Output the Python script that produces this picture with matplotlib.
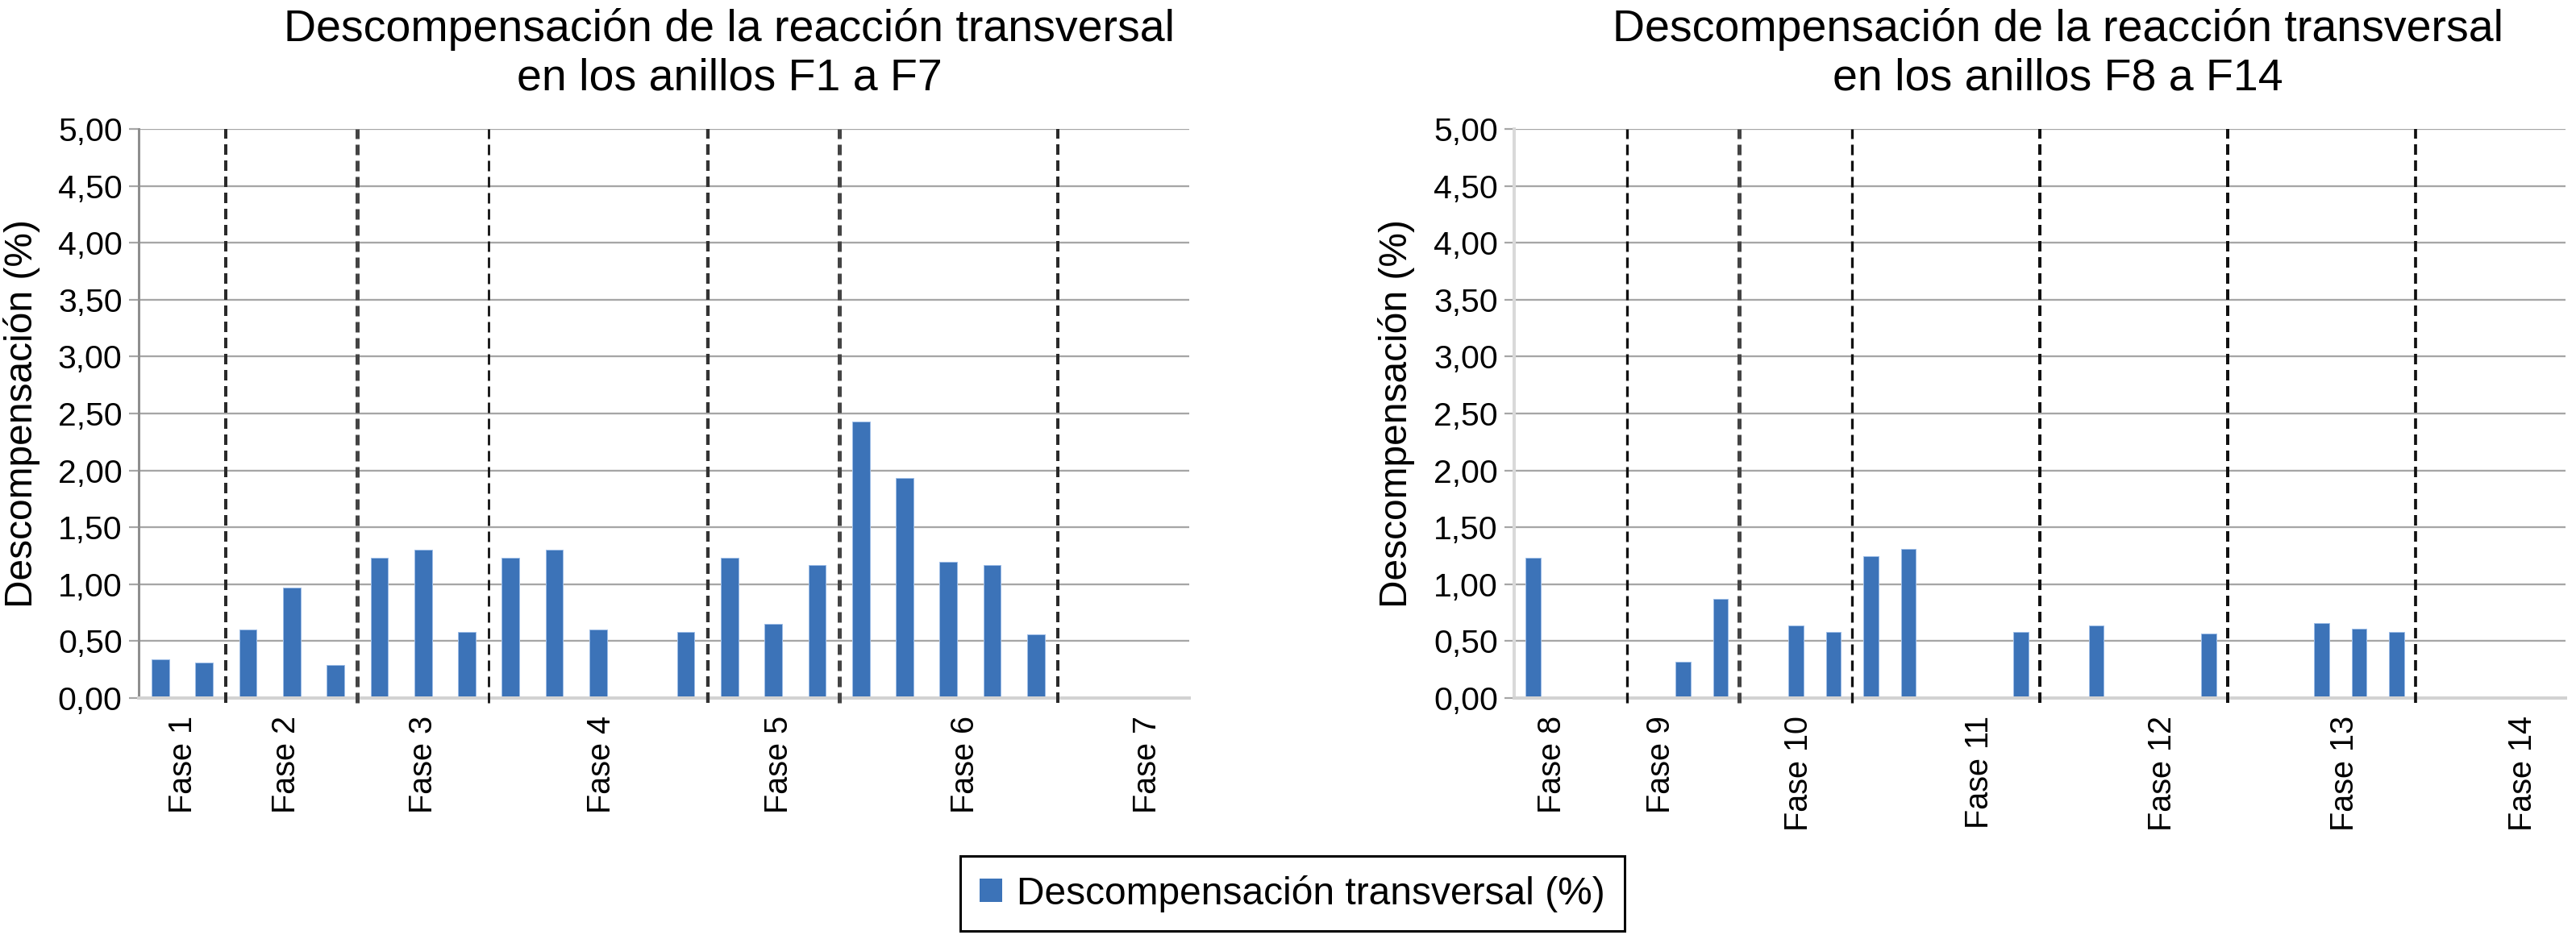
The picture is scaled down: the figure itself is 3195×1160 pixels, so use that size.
import matplotlib
matplotlib.use('Agg')
import matplotlib.pyplot as plt
import numpy as np
from matplotlib.ticker import FuncFormatter, FixedLocator
from matplotlib.patches import Patch

plt.rcParams['font.family'] = ['Liberation Sans', 'DejaVu Sans']
plt.rcParams['lines.scale_dashes'] = False

# ---------------- data ----------------
left_phases = ['Fase 1', 'Fase 2', 'Fase 3', 'Fase 4', 'Fase 5', 'Fase 6', 'Fase 7']
left_group_sizes = [2, 3, 3, 5, 3, 5, 3]
left_label_pos = [0.52, 2.88, 6.0, 10.07, 14.12, 18.38, 22.54]
left_values = [0.34, 0.31,
               0.60, 0.97, 0.29,
               1.23, 1.30, 0.58,
               1.23, 1.30, 0.60, 0.00, 0.58,
               1.23, 0.65, 1.17,
               2.43, 1.93, 1.20, 1.17, 0.56,
               0.00, 0.00, 0.00]

right_phases = ['Fase 8', 'Fase 9', 'Fase 10', 'Fase 11', 'Fase 12', 'Fase 13', 'Fase 14']
right_group_sizes = [3, 3, 3, 5, 5, 5, 4]
right_label_pos = [0.51, 3.41, 7.08, 11.89, 16.76, 21.62, 26.36]
right_values = [1.23, 0.00, 0.00,
                0.00, 0.32, 0.87,
                0.00, 0.64, 0.58,
                1.25, 1.31, 0.00, 0.00, 0.58,
                0.00, 0.64, 0.01, 0.00, 0.57,
                0.00, 0.00, 0.66, 0.61, 0.58,
                0.00, 0.00, 0.00, 0.00]

left_title = 'Descompensación de la reacción transversal\nen los anillos F1 a F7'
right_title = 'Descompensación de la reacción transversal\nen los anillos F8 a F14'
y_label = 'Descompensación (%)'
legend_label = 'Descompensación transversal (%)'
y_tick_values = [0.0, 0.5, 1.0, 1.5, 2.0, 2.5, 3.0, 3.5, 4.0, 4.5, 5.0]

# divider styles (px widths, colours)
left_div_widths = [4.0, 5.0, 2.8, 4.3, 5.0, 4.0]
left_div_colors = ['#2a2a2a', '#444444', '#111111', '#333333', '#444444', '#2a2a2a']
right_div_widths = [3.3, 5.0, 3.3, 4.0, 4.0, 3.7]
right_div_colors = ['#111111', '#444444', '#111111', '#111111', '#111111', '#111111']

# ---------------- style ----------------
W, H = 3195, 1160
DPI = 100
PX = 72.0 / DPI  # points per pixel
bar_color = '#3C73B8'
bar_edge = '#9CBCE6'
grid_color = '#A6A6A6'

fig = plt.figure(figsize=(W / DPI, H / DPI), dpi=DPI)

def fmt(v, p):
    return f'{v:.2f}'.replace('.', ',')

def make_panel(rect, values, sizes, label_pos, phases, spine_color, spine_w,
               div_w, div_c, ylab_x):
    ax = fig.add_axes(rect)
    n = len(values)
    x = np.arange(n)
    ax.set_axisbelow(True)
    ax.bar(x, values, width=0.4, color=bar_color, edgecolor=bar_edge,
           linewidth=1.0 * PX, zorder=2)
    ax.set_xlim(-0.5, n - 0.5)
    ax.set_ylim(0, 5)
    ax.yaxis.set_major_locator(FixedLocator(y_tick_values))
    ax.yaxis.set_major_formatter(FuncFormatter(fmt))
    ax.grid(axis='y', color=grid_color, linewidth=2.3 * PX)
    ax.set_xticks(label_pos)
    ax.set_xticklabels(phases, rotation=90, fontsize=28.5, va='top', ha='center')
    ax.tick_params(axis='x', length=0, pad=22 * PX)
    ax.tick_params(axis='y', labelsize=29.5, length=12 * PX, width=2.2 * PX,
                   color=grid_color, pad=8 * PX)
    for s in ('top', 'right'):
        ax.spines[s].set_visible(False)
    ax.spines['left'].set_color(spine_color)
    ax.spines['left'].set_linewidth(spine_w * PX)
    ax.spines['bottom'].set_color('#D2D2D2')
    ax.spines['bottom'].set_linewidth(4 * PX)
    # phase dividers
    bounds = np.cumsum(sizes)[:-1] - 0.5
    for b, lw, c in zip(bounds, div_w, div_c):
        ax.plot([b, b], [-0.045, 5.0], color=c, linewidth=lw * PX,
                dashes=(13 * PX, 7 * PX), clip_on=False, zorder=3)
    ax.set_ylabel(y_label, fontsize=34.5)
    ax.yaxis.set_label_coords(ylab_x, 0.5)
    return ax

y0 = (H - 866) / H
y1 = (H - 160) / H
lx0, lx1 = 171.7 / W, 1475 / W
rx0, rx1 = 1878 / W, 3182 / W

axL = make_panel([lx0, y0, lx1 - lx0, y1 - y0], left_values, left_group_sizes,
                 left_label_pos, left_phases, '#8E8E8E', 3.0,
                 left_div_widths, left_div_colors, -0.093)
axR = make_panel([rx0, y0, rx1 - rx0, y1 - y0], right_values, right_group_sizes,
                 right_label_pos, right_phases, '#D9D9D9', 4.0,
                 right_div_widths, right_div_colors, -0.094)

fig.text(905 / W, 1 - 10 / H, left_title, ha='center', va='top', fontsize=40,
         linespacing=1.2)
fig.text(2552 / W, 1 - 10 / H, right_title, ha='center', va='top', fontsize=40,
         linespacing=1.2)

leg = fig.legend(handles=[Patch(facecolor=bar_color, edgecolor='none')],
                 labels=[legend_label], loc='center',
                 bbox_to_anchor=(1603 / W, 51.5 / H), fontsize=34.5,
                 frameon=True, fancybox=False, edgecolor='black', framealpha=1,
                 handlelength=0.57, handleheight=0.57, handletextpad=0.38,
                 borderpad=0.5)
leg.get_frame().set_linewidth(3 * PX)

fig.savefig('out.png', dpi=DPI)
